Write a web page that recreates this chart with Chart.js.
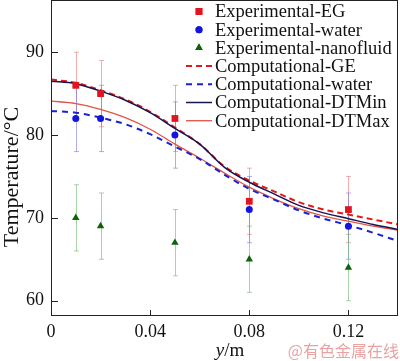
<!DOCTYPE html>
<html>
<head>
<meta charset="utf-8">
<script src="https://cdn.jsdelivr.net/npm/chart.js@4.4.1/dist/chart.umd.min.js"></script>
<style>
html,body{margin:0;padding:0;background:#fff;}
#wrap{width:400px;height:361px;position:relative;}
</style>
</head>
<body>
<div id="wrap"><canvas id="c" width="400" height="361"></canvas></div>
<script>
// ---- data ----
const expX = [0.01, 0.02, 0.05, 0.08, 0.12];
const expEG = [86, 85, 82, 72, 71];
const expWater = [82, 82, 80, 71, 69];
const expNano = [70, 69, 67, 65, 64];
const errEG = [4, 4, 4, 4, 4];
const errWater = [4, 4, 4, 4, 4];
const errNano = [4, 4, 4, 4, 4];

const compX = [0, 0.01, 0.02, 0.03, 0.04, 0.05, 0.06, 0.07, 0.08, 0.09, 0.10, 0.11, 0.12, 0.13, 0.14];
const compGE    = [86.7, 86.3, 85.4, 84.3, 82.8, 80.9, 78.9, 76.2, 74.5, 73.2, 71.9, 71.0, 70.4, 69.8, 69.2];
const compWater = [82.9, 82.7, 82.1, 81.3, 80.1, 78.6, 77.1, 75.2, 73.5, 72.2, 70.9, 69.9, 69.1, 68.2, 67.2];
const compDTMin = [86.5, 86.2, 85.3, 84.2, 82.7, 80.8, 78.9, 76.1, 74.3, 72.9, 71.5, 70.6, 69.9, 69.2, 68.6];
const compDTMax = [84.1, 83.8, 83.1, 82.1, 80.7, 78.9, 77.2, 75.4, 73.7, 72.3, 71.1, 70.2, 69.6, 69.0, 68.5];

const xTicks = [0, 0.04, 0.08, 0.12];
const xTickLabels = ['0', '0.04', '0.08', '0.12'];
const yTicks = [60, 70, 80, 90];
const yTickLabels = ['60', '70', '80', '90'];

const labels = ['Experimental-EG', 'Experimental-water', 'Experimental-nanofluid',
  'Computational-GE', 'Computational-water', 'Computational-DTMin', 'Computational-DTMax'];

const FONT = '"Liberation Serif", "Times New Roman", serif';

const pts = (xs, ys) => xs.map((x, i) => ({x: x, y: ys[i]}));

const datasets = [
  {label: labels[3], data: pts(compX, compGE), showLine: true, pointRadius: 0, borderColor: '#e01a1a', borderWidth: 2, borderDash: [6, 4], cubicInterpolationMode: 'monotone', order: 4},
  {label: labels[4], data: pts(compX, compWater), showLine: true, pointRadius: 0, borderColor: '#1a22d0', borderWidth: 2, borderDash: [6, 5], cubicInterpolationMode: 'monotone', order: 5},
  {label: labels[5], data: pts(compX, compDTMin), showLine: true, pointRadius: 0, borderColor: '#141450', borderWidth: 1.5, cubicInterpolationMode: 'monotone', order: 3},
  {label: labels[6], data: pts(compX, compDTMax), showLine: true, pointRadius: 0, borderColor: '#e05545', borderWidth: 1.3, cubicInterpolationMode: 'monotone', order: 6},
  {label: labels[0], data: pts(expX, expEG), err: errEG, errColor: 'rgba(230,120,120,0.6)', showLine: false, pointStyle: 'rect', pointRadius: 4.8, backgroundColor: '#e2141e', borderColor: '#e2141e', borderWidth: 0, order: 0},
  {label: labels[1], data: pts(expX, expWater), err: errWater, errColor: 'rgba(120,120,220,0.6)', showLine: false, pointStyle: 'circle', pointRadius: 3.5, backgroundColor: '#1414e0', borderColor: '#1414e0', borderWidth: 0, order: 1},
  {label: labels[2], data: pts(expX, expNano), err: errNano, errColor: 'rgba(110,180,110,0.6)', showLine: false, pointStyle: 'triangle', pointRadius: 4.3, backgroundColor: '#0b640b', borderColor: '#0b640b', borderWidth: 0, order: 2}
];

const errorBars = {
  id: 'errorBars',
  beforeDatasetsDraw(chart) {
    const ctx = chart.ctx, xs = chart.scales.x, ys = chart.scales.y;
    ctx.save();
    chart.data.datasets.forEach(ds => {
      if (!ds.err) return;
      ctx.strokeStyle = ds.errColor;
      ctx.lineWidth = 1;
      ds.data.forEach((p, i) => {
        const px = Math.round(xs.getPixelForValue(p.x)) + 0.5;
        const y1 = ys.getPixelForValue(p.y + ds.err[i]);
        const y2 = ys.getPixelForValue(p.y - ds.err[i]);
        ctx.beginPath();
        ctx.moveTo(px, y1); ctx.lineTo(px, y2);
        ctx.moveTo(px - 2.5, y1); ctx.lineTo(px + 2.5, y1);
        ctx.moveTo(px - 2.5, y2); ctx.lineTo(px + 2.5, y2);
        ctx.stroke();
      });
    });
    ctx.restore();
  }
};

const decor = {
  id: 'decor',
  afterDraw(chart) {
    const ctx = chart.ctx, a = chart.chartArea, xs = chart.scales.x, ys = chart.scales.y;
    ctx.save();
    // frame
    ctx.strokeStyle = '#222';
    ctx.lineWidth = 1;
    ctx.strokeRect(Math.round(a.left) + 0.5, Math.round(a.top) + 0.5, Math.round(a.right - a.left) - 1, Math.round(a.bottom - a.top) - 1);
    // inner ticks
    ctx.beginPath();
    xTicks.forEach(v => {
      const px = Math.round(xs.getPixelForValue(v)) + 0.5;
      ctx.moveTo(px, a.bottom); ctx.lineTo(px, a.bottom - 6);
    });
    yTicks.forEach(v => {
      const py = Math.round(ys.getPixelForValue(v)) + 0.5;
      ctx.moveTo(a.left, py); ctx.lineTo(a.left + 7, py);
    });
    ctx.stroke();

    // legend
    const rowY0 = 11.5, rowH = 18.2, lx0 = 186, lx1 = 212, tx = 215;
    const order = [4, 5, 6, 0, 1, 2, 3];
    ctx.font = '18.5px ' + FONT;
    ctx.textBaseline = 'middle';
    ctx.textAlign = 'left';
    order.forEach((di, r) => {
      const ds = chart.data.datasets[di];
      const y = rowY0 + r * rowH;
      if (ds.showLine) {
        ctx.save();
        ctx.strokeStyle = ds.borderColor;
        ctx.lineWidth = ds.borderWidth;
        ctx.setLineDash(ds.borderDash || []);
        ctx.beginPath();
        ctx.moveTo(lx0, y); ctx.lineTo(lx1, y);
        ctx.stroke();
        ctx.restore();
      } else {
        ctx.fillStyle = ds.backgroundColor;
        Chart.helpers.drawPoint(ctx, {pointStyle: ds.pointStyle, radius: ds.pointRadius, borderWidth: 0, rotation: 0}, 199, y);
        ctx.fill();
      }
      ctx.fillStyle = '#111';
      ctx.fillText(ds.label, tx, y + 1);
    });

    // axis titles
    ctx.fillStyle = '#111';
    ctx.textBaseline = 'alphabetic';
    ctx.save();
    ctx.translate(18, 177);
    ctx.rotate(-Math.PI / 2);
    ctx.textAlign = 'center';
    ctx.font = '22px ' + FONT;
    ctx.fillText('Temperature/\u00B0C', 0, 0);
    ctx.restore();

    ctx.font = 'italic 19px ' + FONT;
    const w1 = ctx.measureText('y').width;
    ctx.font = '19px ' + FONT;
    const w2 = ctx.measureText('/m').width;
    const sx = 230 - (w1 + w2) / 2;
    ctx.textAlign = 'left';
    ctx.font = 'italic 19px ' + FONT;
    ctx.fillText('y', sx, 356);
    ctx.font = '19px ' + FONT;
    ctx.fillText('/m', sx + w1, 356);

    // watermark
    ctx.font = '16px "Noto Sans CJK SC", sans-serif';
    ctx.fillStyle = 'rgba(230,130,130,0.75)';
    ctx.textAlign = 'right';
    ctx.fillText('@有色金属在线', 399, 357);
    ctx.restore();
  }
};

new Chart(document.getElementById('c'), {
  type: 'scatter',
  data: {datasets: datasets},
  options: {
    responsive: false,
    animation: false,
    clip: false,
    layout: {autoPadding: false, padding: {top: 0, right: 2, left: 0, bottom: 0}},
    plugins: {legend: {display: false}, tooltip: {enabled: false}},
    scales: {
      x: {
        type: 'linear', min: 0, max: 0.14,
        grid: {display: false, drawTicks: false}, border: {display: false},
        afterBuildTicks: s => { s.ticks = xTicks.map(v => ({value: v})); },
        afterFit: s => { s.height = 45; s.paddingLeft = 0; s.paddingRight = 0; },
        ticks: {
          color: '#111', padding: 5,
          font: {family: FONT, size: 18},
          callback: (v) => { const i = xTicks.indexOf(v); return i >= 0 ? xTickLabels[i] : ''; }
        }
      },
      y: {
        type: 'linear', min: 58.15, max: 96.3,
        grid: {display: false, drawTicks: false}, border: {display: false},
        afterBuildTicks: s => { s.ticks = yTicks.map(v => ({value: v})); },
        afterFit: s => { s.width = 51; s.paddingTop = 0; s.paddingBottom = 0; },
        ticks: {
          color: '#111', padding: 7,
          font: {family: FONT, size: 18},
          callback: (v) => { const i = yTicks.indexOf(v); return i >= 0 ? yTickLabels[i] : ''; }
        }
      }
    }
  },
  plugins: [errorBars, decor]
});
</script>
</body>
</html>
